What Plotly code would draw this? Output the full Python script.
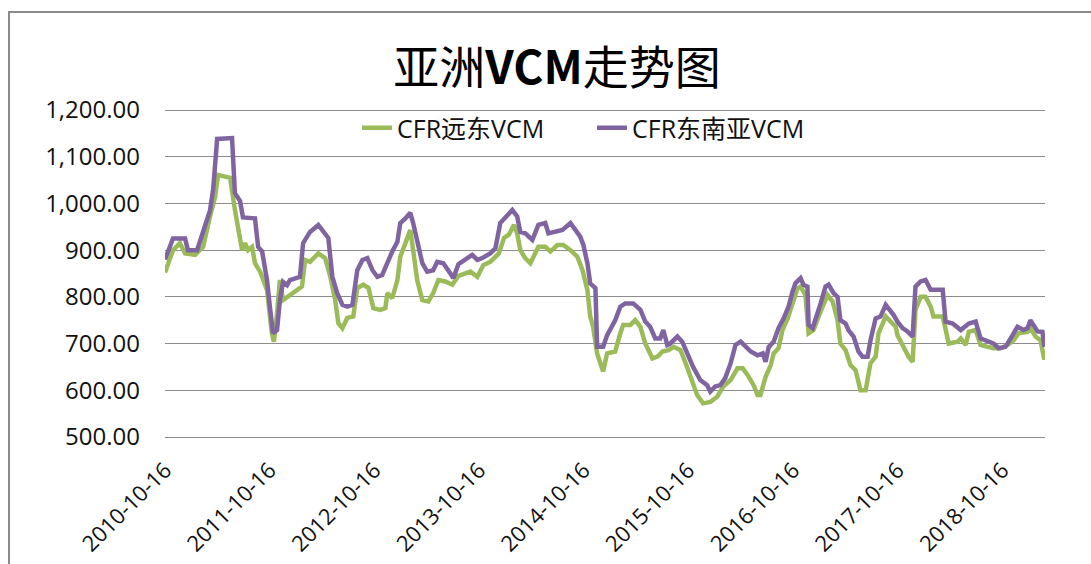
import plotly.graph_objects as go

# ---------------- data ----------------
fe_dates = [
    "2010-10-16", "2010-11-13", "2010-12-07", "2010-12-25", "2011-01-29", "2011-02-26",
    "2011-03-22", "2011-04-09", "2011-04-19", "2011-05-31", "2011-06-17", "2011-06-28",
    "2011-07-12", "2011-07-22", "2011-08-02", "2011-08-16", "2011-08-26", "2011-09-13",
    "2011-10-07", "2011-10-24", "2011-10-31", "2011-11-11", "2011-11-21", "2011-12-02",
    "2011-12-19", "2012-01-20", "2012-02-06", "2012-02-17", "2012-03-05", "2012-04-03",
    "2012-04-27", "2012-05-15", "2012-06-01", "2012-06-12", "2012-06-26", "2012-07-13",
    "2012-08-03", "2012-08-17", "2012-09-07", "2012-09-25", "2012-10-12", "2012-11-05",
    "2012-11-23", "2012-11-30", "2012-12-17", "2013-01-04", "2013-01-14", "2013-02-01",
    "2013-02-18", "2013-02-28", "2013-03-14", "2013-04-01", "2013-04-22", "2013-05-09",
    "2013-05-27", "2013-06-20", "2013-07-15", "2013-08-05", "2013-09-16", "2013-10-10",
    "2013-10-31", "2013-11-24", "2013-12-24", "2014-01-11", "2014-01-28", "2014-02-15",
    "2014-02-26", "2014-03-09", "2014-03-26", "2014-04-13", "2014-04-30", "2014-05-11",
    "2014-06-04", "2014-06-22", "2014-07-16", "2014-08-06", "2014-08-31", "2014-09-24",
    "2014-10-12", "2014-10-29", "2014-11-08", "2014-11-18", "2014-12-02", "2014-12-23",
    "2015-01-06", "2015-02-03", "2015-02-21", "2015-03-03", "2015-03-28", "2015-04-14",
    "2015-05-02", "2015-05-19", "2015-06-13", "2015-07-01", "2015-07-18", "2015-08-08",
    "2015-08-26", "2015-09-19", "2015-10-07", "2015-10-23", "2015-11-16", "2015-12-07",
    "2016-01-01", "2016-01-25", "2016-02-15", "2016-03-12", "2016-04-05", "2016-04-23",
    "2016-05-10", "2016-05-31", "2016-06-14", "2016-06-24", "2016-07-12", "2016-07-30",
    "2016-08-09", "2016-08-26", "2016-09-09", "2016-09-27", "2016-10-14", "2016-10-31",
    "2016-11-11", "2016-11-28", "2016-12-09", "2016-12-26", "2017-01-13", "2017-01-30",
    "2017-02-13", "2017-03-03", "2017-03-20", "2017-03-30", "2017-04-17", "2017-05-04",
    "2017-05-22", "2017-06-08", "2017-06-26", "2017-07-13", "2017-07-31", "2017-08-10",
    "2017-09-04", "2017-10-09", "2017-10-15", "2017-11-05", "2017-11-23", "2017-12-07",
    "2017-12-17", "2018-01-04", "2018-01-21", "2018-02-08", "2018-02-18", "2018-03-22",
    "2018-04-01", "2018-04-12", "2018-05-13", "2018-05-24", "2018-06-10", "2018-06-21",
    "2018-07-15", "2018-08-01", "2018-08-26", "2018-09-16", "2018-10-09", "2018-11-03",
    "2018-11-24", "2018-12-12", "2019-01-12", "2019-01-22", "2019-02-09", "2019-02-26",
    "2019-03-12",
]
fe_values = [
    852, 900, 915, 893, 890, 907,
    972, 1014, 1061, 1055, 986, 950,
    900, 915, 900, 907, 872, 854,
    815, 722, 704, 765, 836, 793,
    800, 815, 822, 879, 875, 893,
    883, 843, 793, 744, 733, 755,
    758, 819, 826, 819, 776, 772,
    776, 808, 797, 836, 886, 915,
    943, 900, 836, 793, 790, 808,
    836, 833, 826, 845, 854, 843,
    868, 875, 893, 926, 933, 954,
    936, 900, 883, 872, 897, 907,
    907, 897, 911, 911, 900, 886,
    857, 815, 758, 736, 679, 640,
    679, 683, 722, 740, 740, 750,
    736, 700, 668, 672, 683, 686,
    693, 686, 658, 633, 590, 572,
    575, 586, 608, 622, 647, 647,
    633, 611, 590, 590, 629, 654,
    679, 690, 729, 754, 786, 818,
    822, 804, 722, 729, 758, 786,
    804, 790, 750, 700, 686, 654,
    643, 600, 600, 658, 672, 722,
    758, 736, 718, 693, 672, 661,
    772, 800, 800, 779, 758, 758,
    733, 700, 704, 711, 697, 725,
    729, 697, 693, 690, 690, 697,
    707, 722, 725, 733, 715, 707,
    665,
]

sea_dates = [
    "2010-10-16", "2010-11-13", "2010-12-25", "2011-01-04", "2011-02-05", "2011-02-15",
    "2011-03-05", "2011-03-22", "2011-04-02", "2011-04-16", "2011-06-07", "2011-06-17",
    "2011-07-05", "2011-07-15", "2011-08-26", "2011-09-06", "2011-09-20", "2011-10-07",
    "2011-10-17", "2011-10-28", "2011-11-11", "2011-11-21", "2011-12-02", "2011-12-16",
    "2011-12-26", "2012-01-30", "2012-02-10", "2012-03-05", "2012-04-03", "2012-04-20",
    "2012-05-08", "2012-05-22", "2012-06-08", "2012-06-26", "2012-07-13", "2012-07-31",
    "2012-08-17", "2012-09-04", "2012-09-21", "2012-10-09", "2012-10-26", "2012-11-12",
    "2012-11-30", "2012-12-17", "2013-01-04", "2013-01-14", "2013-02-01", "2013-02-18",
    "2013-02-28", "2013-03-14", "2013-04-01", "2013-04-18", "2013-05-09", "2013-05-23",
    "2013-06-13", "2013-07-08", "2013-07-18", "2013-08-05", "2013-08-29", "2013-09-22",
    "2013-10-10", "2013-10-27", "2013-11-24", "2013-12-12", "2013-12-29", "2014-01-22",
    "2014-02-09", "2014-02-26", "2014-03-09", "2014-03-26", "2014-04-20", "2014-05-11",
    "2014-06-04", "2014-06-15", "2014-07-09", "2014-08-03", "2014-08-31", "2014-09-17",
    "2014-10-04", "2014-10-15", "2014-10-29", "2014-11-08", "2014-11-26", "2014-12-02",
    "2014-12-23", "2015-01-06", "2015-01-17", "2015-02-03", "2015-02-21", "2015-03-10",
    "2015-04-07", "2015-05-02", "2015-05-19", "2015-06-05", "2015-06-23", "2015-07-10",
    "2015-07-21", "2015-08-04", "2015-08-14", "2015-09-08", "2015-09-25", "2015-10-13",
    "2015-11-02", "2015-11-27", "2015-12-21", "2016-01-01", "2016-01-18", "2016-02-05",
    "2016-02-22", "2016-03-12", "2016-03-29", "2016-04-16", "2016-05-03", "2016-05-21",
    "2016-06-14", "2016-07-02", "2016-07-12", "2016-07-23", "2016-08-09", "2016-08-26",
    "2016-09-13", "2016-09-30", "2016-10-14", "2016-10-24", "2016-11-11", "2016-11-21",
    "2016-12-05", "2016-12-09", "2016-12-23", "2017-01-02", "2017-01-20", "2017-02-06",
    "2017-02-17", "2017-03-06", "2017-03-20", "2017-03-30", "2017-04-17", "2017-04-27",
    "2017-05-15", "2017-06-01", "2017-06-15", "2017-07-03", "2017-07-13", "2017-07-31",
    "2017-08-17", "2017-09-04", "2017-09-14", "2017-10-02", "2017-10-15", "2017-11-02",
    "2017-11-19", "2017-12-07", "2017-12-17", "2018-01-04", "2018-01-21", "2018-02-08",
    "2018-03-22", "2018-04-01", "2018-04-26", "2018-05-24", "2018-06-21", "2018-07-15",
    "2018-08-01", "2018-08-26", "2018-09-16", "2018-10-03", "2018-10-27", "2018-11-21",
    "2018-12-08", "2018-12-29", "2019-01-12", "2019-01-22", "2019-02-02", "2019-02-16",
    "2019-03-05", "2019-03-12",
]
sea_values = [
    880, 925, 925, 900, 900, 918,
    950, 985, 1030, 1138, 1140, 1022,
    1005, 970, 968, 907, 897, 836,
    779, 722, 729, 793, 832, 825,
    836, 843, 915, 939, 954, 939,
    926, 843, 808, 783, 779, 783,
    857, 879, 883, 857, 843, 847,
    875, 897, 918, 958, 968, 980,
    958, 915, 872, 854, 857, 875,
    872, 850, 840, 870, 879, 890,
    879, 883, 893, 904, 958, 975,
    986, 972, 939, 936, 922, 954,
    958, 936, 939, 943, 958, 943,
    929, 911, 872, 829, 819, 693,
    693, 718, 729, 750, 779, 786,
    786, 772, 747, 736, 711, 711,
    729, 697, 700, 715, 704, 679,
    650, 622, 611, 597, 608, 611,
    626, 658, 697, 704, 693, 683,
    675, 679, 661, 693, 704, 733,
    754, 779, 811, 829, 840, 826,
    822, 740, 733, 750, 786, 822,
    826, 808, 800, 750, 743, 729,
    715, 683, 672, 672, 707, 754,
    758, 783, 776, 761, 747, 733,
    726, 715, 822, 833, 836, 815,
    815, 747, 743, 729, 743, 747,
    711, 704, 700, 690, 693, 718,
    736, 729, 733, 750, 740, 726,
    725, 693,
]

series_names = ["CFR远东VCM", "CFR东南亚VCM"]
tick_dates = ["2010-10-16", "2011-10-16", "2012-10-16", "2013-10-16", "2014-10-16",
              "2015-10-16", "2016-10-16", "2017-10-16", "2018-10-16"]
y_ticks = [500, 600, 700, 800, 900, 1000, 1100, 1200]
title_text = "亚洲<b>VCM</b>走势图"

# ---------------- figure ----------------
FONT = "Open Sans, Noto Sans CJK SC, sans-serif"
GREEN = "#9BBB59"
PURPLE = "#8064A2"

fig = go.Figure()
fig.add_trace(go.Scatter(x=fe_dates, y=fe_values, mode="lines", name=series_names[0],
                         line=dict(color=GREEN, width=4.5)))
fig.add_trace(go.Scatter(x=sea_dates, y=sea_values, mode="lines", name=series_names[1],
                         line=dict(color=PURPLE, width=4.5)))

W, H = 1091, 564
# value 1200 sits at y=110 px and 500 at y=437 px; the plot area gets 3 px of slack
# on each side so that the edge gridlines are drawn.
PAD_PX = 3
L, R, T, B = 165, 46, 110 - PAD_PX, (H - 437) - PAD_PX
pw, ph = W - L - R, H - T - B
y_pad = PAD_PX * 700 / 327

def px(xp):
    return (xp - L) / pw

def py(yp):
    return (H - B - yp) / ph

fig.update_layout(
    width=W, height=H,
    margin=dict(l=L, r=R, t=T, b=B, autoexpand=False),
    paper_bgcolor="white", plot_bgcolor="white",
    font=dict(family=FONT, color="#111111", size=23),
    title=dict(text=title_text, x=557 / W, xref="container", xanchor="center",
               y=1 - 68 / H, yref="container", yanchor="middle",
               font=dict(family="Noto Sans CJK SC, sans-serif", size=46, color="#000000")),
    showlegend=True,
    legend=dict(orientation="h", x=px(357), xanchor="left", y=py(128), yanchor="middle",
                bgcolor="rgba(0,0,0,0)", font=dict(family=FONT, size=25, color="#111111"),
                entrywidth=190, entrywidthmode="pixels", tracegroupgap=0),
    xaxis=dict(type="date", range=["2010-10-16", "2019-03-14"],
               tickmode="array", tickvals=tick_dates, ticktext=tick_dates,
               tickangle=-45, showgrid=False, zeroline=False, showline=False,
               ticks="", ticklabelstandoff=9 + PAD_PX, tickfont=dict(size=22)),
    yaxis=dict(range=[500 - y_pad, 1200 + y_pad], tickmode="array", tickvals=y_ticks,
               tickformat=",.2f", showgrid=True, gridcolor="#8C8C8C", gridwidth=1,
               zeroline=False, showline=False, ticks="", ticklabelstandoff=24,
               tickfont=dict(size=24)),
    hovermode="x unified",
)

# outer chart frame (partly cut off on the right/bottom in the reference)
fig.add_shape(type="rect", xref="paper", yref="paper",
              x0=px(9), x1=px(1100), y0=py(575), y1=py(12),
              line=dict(color="#8A8A8A", width=2), fillcolor="rgba(0,0,0,0)", layer="below")

fig.write_html("out.html", config={"displayModeBar": False},
               post_script="document.body.style.margin='0';document.body.style.overflow='hidden';")
